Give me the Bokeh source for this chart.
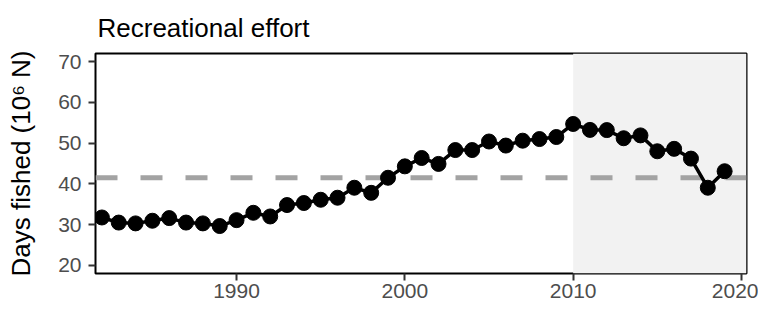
from bokeh.plotting import figure
from bokeh.models import Range1d, BoxAnnotation, Span, FixedTicker, ColumnDataSource
from bokeh.embed import file_html
from bokeh.resources import INLINE

years = list(range(1982, 2020))
effort = [31.75, 30.5, 30.3, 30.95, 31.6, 30.5, 30.3, 29.65, 31.1, 32.9,
          32.0, 34.8, 35.3, 36.1, 36.6, 39.05, 37.8, 41.5, 44.3, 46.35,
          44.9, 48.3, 48.3, 50.4, 49.4, 50.6, 51.0, 51.5, 54.7, 53.25,
          53.2, 51.2, 51.9, 48.0, 48.6, 46.2, 39.05, 43.1]
mean_level = 41.5
shade_start = 2010
x_ticks = [1990, 2000, 2010, 2020]
y_ticks = [20, 30, 40, 50, 60, 70]

FONT = "Liberation Sans"

p = figure(width=758, height=304, output_backend="svg", toolbar_location=None,
           x_range=Range1d(1981.62, 2020.3), y_range=Range1d(18, 72),
           min_border_left=95, min_border_right=12, min_border_top=51,
           min_border_bottom=31, title="Recreational effort")

p.title.text_font = FONT
p.title.text_font_size = "26px"
p.title.text_font_style = "normal"
p.title.text_color = "black"
p.title.offset = 2
p.title.standoff = 21

p.xgrid.visible = False
p.ygrid.visible = False
p.outline_line_color = "black"
p.outline_line_width = 2
p.background_fill_color = "white"
p.border_fill_color = "white"

for ax in (p.xaxis[0], p.yaxis[0]):
    ax.axis_line_color = None
    ax.major_tick_line_color = "#333333"
    ax.major_tick_line_width = 2
    ax.major_tick_out = 7
    ax.major_tick_in = 0
    ax.minor_tick_line_color = None
    ax.major_label_text_font = FONT
    ax.major_label_text_font_size = "21px"
    ax.major_label_text_color = "#4d4d4d"
    ax.major_label_standoff = 7

p.xaxis[0].major_label_standoff = 3
p.xaxis[0].ticker = FixedTicker(ticks=x_ticks)
p.yaxis[0].ticker = FixedTicker(ticks=y_ticks)
p.yaxis[0].axis_label = "Days fished (10\u2076 N)"
p.yaxis[0].axis_label_text_font = FONT
p.yaxis[0].axis_label_text_font_size = "26px"
p.yaxis[0].axis_label_text_font_style = "normal"
p.yaxis[0].axis_label_text_color = "black"
p.yaxis[0].axis_label_standoff = 19

shade = BoxAnnotation(left=shade_start, fill_color="#f2f2f2", fill_alpha=1.0,
                      line_color=None, level="underlay")
p.add_layout(shade)

hline = Span(location=mean_level, dimension="width", line_color="#a3a3a3",
             line_width=5, line_dash="22 23", level="underlay")
p.add_layout(hline)

src = ColumnDataSource(data=dict(year=years, effort=effort))
p.line("year", "effort", source=src, line_color="black", line_width=3.5)
p.scatter("year", "effort", source=src, size=15, fill_color="black",
          line_color="black")

open("out.html", "w").write(file_html(p, INLINE))
